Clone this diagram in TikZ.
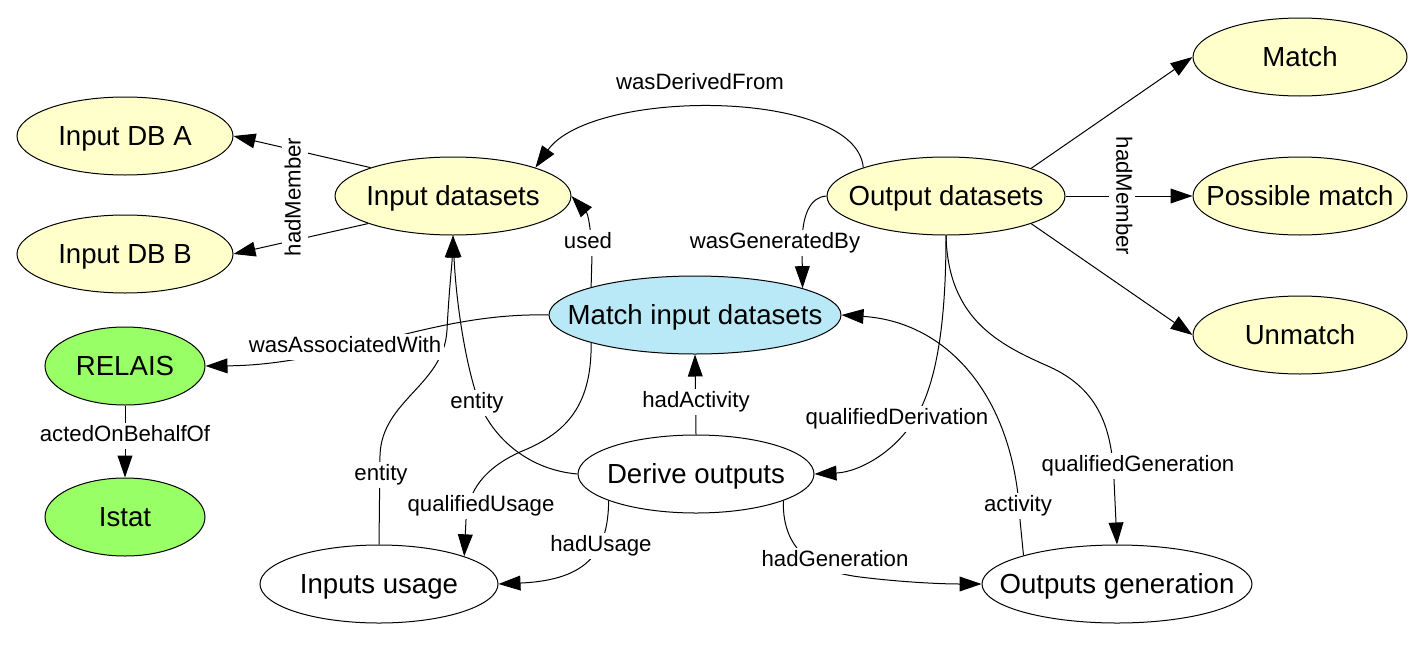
\documentclass[tikz,border=0pt]{standalone}
\usepackage{fontspec}
\setmainfont{Liberation Sans}
\usetikzlibrary{shapes.geometric,arrows.meta}
\definecolor{ycol}{HTML}{FFFFCC}
\definecolor{bcol}{HTML}{B9E8F6}
\definecolor{gcol}{HTML}{99FF66}
\begin{document}
\begin{tikzpicture}[x=0.5pt,y=-0.5pt,
  ent/.style={ellipse, draw, line width=0.5pt, inner sep=0pt, minimum height=39pt,
    text height=9.9pt, text depth=0pt, font=\fontsize{13.8}{16}\selectfont},
  lbl/.style={fill=white, inner sep=1.2pt, text height=8pt, text depth=2.3pt,
    font=\fontsize{11.1}{13}\selectfont},
  conn/.style={line width=0.5pt, -{Triangle[length=11pt,width=7.4pt]}}]
\useasboundingbox (0,0) rectangle (1428,648);

% nodes
\node[ent, fill=ycol, minimum width=108pt] (dbA) at (125,136) {\makebox[0pt]{Input DB A}};
\node[ent, fill=ycol, minimum width=108pt] (dbB) at (125,254) {\makebox[0pt]{Input DB B}};
\node[ent, fill=ycol, minimum width=118pt] (ids) at (453,196) {\makebox[0pt]{Input datasets}};
\node[ent, fill=ycol, minimum width=119pt] (ods) at (946,196) {\makebox[0pt]{Output datasets}};
\node[ent, fill=ycol, minimum width=107pt] (match) at (1300,57) {\makebox[0pt]{Match}};
\node[ent, fill=ycol, minimum width=107pt] (pmatch) at (1300,196) {\makebox[0pt]{Possible match}};
\node[ent, fill=ycol, minimum width=107pt] (unmatch) at (1300,335) {\makebox[0pt]{Unmatch}};
\node[ent, fill=bcol, minimum width=146pt] (mid) at (695,315) {\makebox[0pt]{Match input datasets}};
\node[ent, fill=gcol, minimum width=80pt] (relais) at (125,366) {\makebox[0pt]{RELAIS}};
\node[ent, fill=gcol, minimum width=80pt] (istat) at (125,517) {\makebox[0pt]{Istat}};
\node[ent, fill=white, minimum width=119pt] (iu) at (379,584) {\makebox[0pt]{Inputs usage}};
\node[ent, fill=white, minimum width=118pt] (dout) at (696,474) {\makebox[0pt]{Derive outputs}};
\node[ent, fill=white, minimum width=135pt] (og) at (1117,584) {\makebox[0pt]{Outputs generation}};

% connectors
\draw[conn] (ids.161) -- (dbA.east);
\draw[conn] (ids.198) -- (dbB.east);
\draw[conn] (ods.18.6) -- (match.west);
\draw[conn] (ods.east) -- (pmatch.west);
\draw[conn] (ods.-18.6) -- (unmatch.west);
\draw[conn] (ods.161) .. controls (856,88) and (592,88) .. (ids.19);
\draw[conn] (mid.165) -- (592,255) .. controls (591,228) and (588,214) .. (ids.east);
\draw[conn] (ods.west) .. controls (810,197) and (802,215) .. (802,245) -- (mid.14);
\draw[conn] (mid.west) .. controls (430,312) and (340,365) .. (relais.east);
\draw[conn] (relais.south) -- (istat.north);
\draw[conn] (dout.north) -- (mid.south);
\draw[conn] (iu.north) -- (380,455) .. controls (382,400) and (444,385) .. (447,330) .. controls (449,290) and (452,265) .. (ids.south);
\draw[conn] (dout.west) .. controls (530,470) and (495,440) .. (480,405) .. controls (465,365) and (456,300) .. (ids.south);
\draw[conn] (mid.195) .. controls (592,410) and (562,435) .. (520,452) .. controls (485,468) and (468,490) .. (466,520) -- (iu.18);
\draw[conn] (dout.197.6) .. controls (608,550) and (590,580) .. (iu.east);
\draw[conn] (dout.-17.6) .. controls (782,555) and (820,572) .. (860,577) .. controls (900,582) and (940,584) .. (og.west);
\draw[conn] (ods.south) .. controls (946,330) and (935,380) .. (920,410) .. controls (900,450) and (860,472) .. (dout.east);
\draw[conn] (og.163.7) -- (1020,520) .. controls (1015,400) and (950,322) .. (mid.east);
\draw[conn] (ods.south) .. controls (948,320) and (1000,345) .. (1050,367) .. controls (1100,390) and (1112,430) .. (1114,480) -- (og.north);

% labels
\node[lbl, rotate=90] (l1) at (295,197) {hadMember};
\node[lbl, rotate=-90] (l2) at (1122,196) {hadMember};
\node[lbl] (l3) at (700,84) {wasDerivedFrom};
\node[lbl] (l4) at (588,243) {used};
\node[lbl] (l5) at (775,243) {wasGeneratedBy};
\node[lbl] (l6) at (345,347) {wasAssociatedWith};
\node[lbl] (l7) at (125,436) {actedOnBehalfOf};
\node[lbl] (l8) at (696,402) {hadActivity};
\node[lbl] (l9) at (381,475) {entity};
\node[lbl] (l10) at (477,403) {entity};
\node[lbl] (l11) at (481,506) {qualifiedUsage};
\node[lbl] (l12) at (601,546) {hadUsage};
\node[lbl] (l13) at (835,561) {hadGeneration};
\node[lbl] (l14) at (897,419) {qualifiedDerivation};
\node[lbl] (l15) at (1018,506) {activity};
\node[lbl] (l16) at (1138,466) {qualifiedGeneration};
\end{tikzpicture}
\end{document}
